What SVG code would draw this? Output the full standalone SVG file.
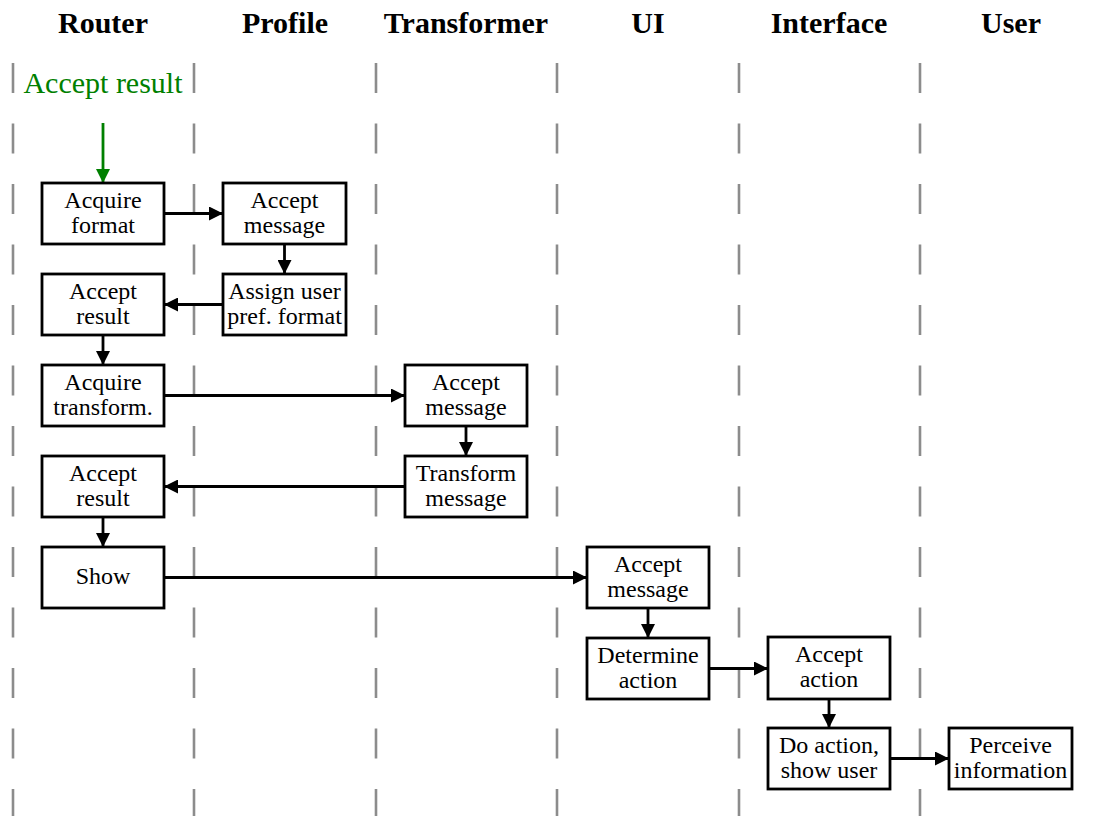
<svg xmlns="http://www.w3.org/2000/svg" width="1096" height="816" viewBox="0 0 1096 816">
  <defs>
    <marker id="arrow" viewBox="0 0 10 10" refX="10" refY="5" markerWidth="5" markerHeight="5" orient="auto" markerUnits="strokeWidth">
      <path d="M0,0 L10,5 L0,10 z" fill="#000"/>
    </marker>
    <marker id="arrow-green" viewBox="0 0 10 10" refX="10" refY="5" markerWidth="5" markerHeight="5" orient="auto" markerUnits="strokeWidth">
      <path d="M0,0 L10,5 L0,10 z" fill="#008000"/>
    </marker>
    <style>
      .lane { stroke: #8c8c8c; stroke-width: 2.6; stroke-dasharray: 30 30.5; fill: none; }
      .head { font-family: "Liberation Serif", "Times New Roman", serif; font-size: 30px; font-weight: bold; text-anchor: middle; fill: #000; }
      .box rect { fill: #fff; stroke: #000; stroke-width: 2.8; }
      .box text { font-family: "Liberation Serif", "Times New Roman", serif; font-size: 24px; text-anchor: middle; fill: #000; }
      .edge { stroke: #000; stroke-width: 2.8; fill: none; marker-end: url(#arrow); }
      .start-label { font-family: "Liberation Serif", "Times New Roman", serif; font-size: 30px; text-anchor: middle; fill: #008000; }
      .start-edge { stroke: #008000; stroke-width: 2.8; fill: none; marker-end: url(#arrow-green); }
    </style>
  </defs>

  <rect width="1096" height="816" fill="#fff"/>

  <!-- swimlane separators -->
  <g id="lanes">
    <line class="lane" x1="13" y1="63" x2="13" y2="816"/>
    <line class="lane" x1="194" y1="63" x2="194" y2="816"/>
    <line class="lane" x1="376" y1="63" x2="376" y2="816"/>
    <line class="lane" x1="557" y1="63" x2="557" y2="816"/>
    <line class="lane" x1="739" y1="63" x2="739" y2="816"/>
    <line class="lane" x1="920" y1="63" x2="920" y2="816"/>
  </g>

  <!-- lane headings -->
  <g id="headings">
    <text class="head" x="103" y="33">Router</text>
    <text class="head" x="285" y="33">Profile</text>
    <text class="head" x="466" y="33">Transformer</text>
    <text class="head" x="648" y="33">UI</text>
    <text class="head" x="829" y="33">Interface</text>
    <text class="head" x="1011" y="33">User</text>
  </g>

  <!-- start trigger -->
  <g id="start">
    <text class="start-label" x="103" y="93">Accept result</text>
  </g>

  <!-- connectors -->
  <g id="connectors">
    <line class="start-edge" x1="103" y1="123" x2="103" y2="183"/>
    <line class="edge" x1="164" y1="213.5" x2="223" y2="213.5"/>
    <line class="edge" x1="284.5" y1="244" x2="284.5" y2="274"/>
    <line class="edge" x1="223" y1="304.5" x2="164" y2="304.5"/>
    <line class="edge" x1="103" y1="335" x2="103" y2="365"/>
    <line class="edge" x1="164" y1="395.5" x2="405" y2="395.5"/>
    <line class="edge" x1="466" y1="426" x2="466" y2="456"/>
    <line class="edge" x1="405" y1="486.5" x2="164" y2="486.5"/>
    <line class="edge" x1="103" y1="517" x2="103" y2="547"/>
    <line class="edge" x1="164" y1="577.5" x2="587" y2="577.5"/>
    <line class="edge" x1="648" y1="608" x2="648" y2="638"/>
    <line class="edge" x1="709" y1="668.5" x2="768" y2="668.5"/>
    <line class="edge" x1="829" y1="699" x2="829" y2="728"/>
    <line class="edge" x1="890" y1="758.5" x2="949" y2="758.5"/>
  </g>

  <!-- Router lane -->
  <g id="router-acquire-format" class="box">
    <rect x="42" y="183" width="122" height="61"/>
    <text x="103" y="208">Acquire</text>
    <text x="103" y="232.5">format</text>
  </g>
  <g id="router-accept-result-1" class="box">
    <rect x="42" y="274" width="122" height="61"/>
    <text x="103" y="299">Accept</text>
    <text x="103" y="323.5">result</text>
  </g>
  <g id="router-acquire-transform" class="box">
    <rect x="42" y="365" width="122" height="61"/>
    <text x="103" y="390">Acquire</text>
    <text x="103" y="414.5">transform.</text>
  </g>
  <g id="router-accept-result-2" class="box">
    <rect x="42" y="456" width="122" height="61"/>
    <text x="103" y="481">Accept</text>
    <text x="103" y="505.5">result</text>
  </g>
  <g id="router-show" class="box">
    <rect x="42" y="547" width="122" height="61"/>
    <text x="103" y="584">Show</text>
  </g>

  <!-- Profile lane -->
  <g id="profile-accept-message" class="box">
    <rect x="223" y="183" width="123" height="61"/>
    <text x="284.5" y="208">Accept</text>
    <text x="284.5" y="232.5">message</text>
  </g>
  <g id="profile-assign-format" class="box">
    <rect x="223" y="274" width="123" height="61"/>
    <text x="284.5" y="299">Assign user</text>
    <text x="284.5" y="323.5">pref. format</text>
  </g>

  <!-- Transformer lane -->
  <g id="transformer-accept-message" class="box">
    <rect x="405" y="365" width="122" height="61"/>
    <text x="466" y="390">Accept</text>
    <text x="466" y="414.5">message</text>
  </g>
  <g id="transformer-transform" class="box">
    <rect x="405" y="456" width="122" height="61"/>
    <text x="466" y="481">Transform</text>
    <text x="466" y="505.5">message</text>
  </g>

  <!-- UI lane -->
  <g id="ui-accept-message" class="box">
    <rect x="587" y="547" width="122" height="61"/>
    <text x="648" y="572">Accept</text>
    <text x="648" y="596.5">message</text>
  </g>
  <g id="ui-determine-action" class="box">
    <rect x="587" y="638" width="122" height="61"/>
    <text x="648" y="663">Determine</text>
    <text x="648" y="687.5">action</text>
  </g>

  <!-- Interface lane -->
  <g id="interface-accept-action" class="box">
    <rect x="768" y="637" width="122" height="62"/>
    <text x="829" y="662">Accept</text>
    <text x="829" y="686.5">action</text>
  </g>
  <g id="interface-do-action" class="box">
    <rect x="768" y="728" width="122" height="61"/>
    <text x="829" y="753">Do action,</text>
    <text x="829" y="777.5">show user</text>
  </g>

  <!-- User lane -->
  <g id="user-perceive" class="box">
    <rect x="949" y="728" width="123" height="61"/>
    <text x="1010.5" y="753">Perceive</text>
    <text x="1010.5" y="777.5">information</text>
  </g>
</svg>
